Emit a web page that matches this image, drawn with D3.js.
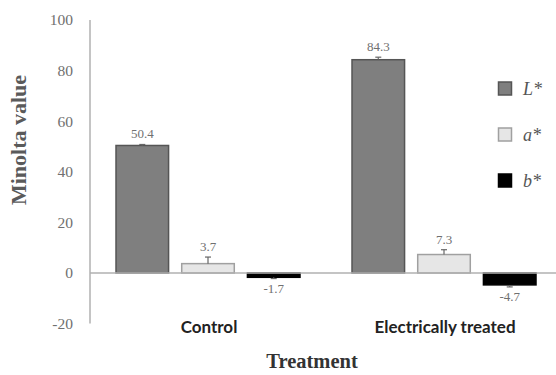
<!DOCTYPE html>
<html><head><meta charset="utf-8">
<script src="https://cdn.jsdelivr.net/npm/d3@7/dist/d3.min.js"></script>
<style>body{margin:0;background:#fff}svg{display:block}</style>
</head><body>
<svg id="c" width="556" height="375"></svg>
<script>
const categories = ["Control", "Electrically treated"];
const seriesNames = ["L*", "a*", "b*"];
const valuesL = [50.4, 84.3];
const valuesA = [3.7, 7.3];
const valuesB = [-1.7, -4.7];
const errL = [0.4, 1.0];
const errA = [2.6, 1.9];
const errB = [0.5, 0.8];
const yTicks = [-20, 0, 20, 40, 60, 80, 100];

const fills = ["#7f7f7f", "#e6e6e6", "#000000"];
const strokes = ["#555555", "#a0a0a0", "#000000"];
const series = [valuesL, valuesA, valuesB];
const errs = [errL, errA, errB];

const svg = d3.select("#c");
const y = d3.scaleLinear().domain([-20, 100]).range([323.6, 20]);
const x0 = d3.scaleBand().domain(categories).range([90, 562]);
const x1 = d3.scaleBand().domain(seriesNames).range([26, 210]).paddingInner(0.2);

// y axis line
svg.append("line").attr("x1", 90).attr("x2", 90).attr("y1", y(100)).attr("y2", y(-20))
  .attr("stroke", "#b0b0b0").attr("stroke-width", 1.5);

// tick labels
svg.append("g").selectAll("text").data(yTicks).join("text")
  .attr("x", 73).attr("y", d => y(d)).attr("dy", "0.35em")
  .attr("text-anchor", "end")
  .attr("font-family", "Liberation Serif").attr("font-size", 15.5).attr("fill", "#707070")
  .text(d => d);

// bars
const rows = [];
categories.forEach((c, i) => seriesNames.forEach((s, j) => rows.push({c, s, j, v: series[j][i], e: errs[j][i]})));

const g = svg.append("g");
g.selectAll("rect").data(rows).join("rect")
  .attr("x", d => x0(d.c) + x1(d.s))
  .attr("y", d => y(Math.max(0, d.v)))
  .attr("width", x1.bandwidth())
  .attr("height", d => Math.abs(y(d.v) - y(0)))
  .attr("fill", d => fills[d.j]).attr("stroke", d => strokes[d.j]).attr("stroke-width", 1.5);

// zero line
svg.append("line").attr("x1", 90).attr("x2", 556).attr("y1", y(0)).attr("y2", y(0))
  .attr("stroke", "#b0b0b0").attr("stroke-width", 1.5);

// error bars
const eb = svg.append("g").attr("stroke", "#666").attr("stroke-width", 1.2);
rows.forEach(d => {
  const cx = x0(d.c) + x1(d.s) + x1.bandwidth() / 2;
  const end = d.v >= 0 ? d.v + d.e : d.v - d.e;
  eb.append("line").attr("x1", cx).attr("x2", cx).attr("y1", y(d.v)).attr("y2", y(end));
  eb.append("line").attr("x1", cx - 3).attr("x2", cx + 3).attr("y1", y(end)).attr("y2", y(end));
});

// value labels
svg.append("g").selectAll("text").data(rows).join("text")
  .attr("x", d => x0(d.c) + x1(d.s) + x1.bandwidth() / 2)
  .attr("y", d => d.v >= 0 ? y(d.v + d.e) - 6 : y(d.v - d.e) + 14)
  .attr("text-anchor", "middle")
  .attr("font-family", "Liberation Serif").attr("font-size", 13).attr("fill", "#707070")
  .text(d => d.v.toFixed(1));

// category labels
svg.append("g").selectAll("text").data(categories).join("text")
  .attr("x", d => x0(d) + 26 + 92 + 1)
  .attr("y", 333)
  .attr("text-anchor", "middle")
  .attr("font-family", "Lato").attr("font-weight", "bold").attr("font-size", 17).attr("fill", "#222")
  .text(d => d);

// axis titles
svg.append("text").attr("x", 312).attr("y", 368).attr("text-anchor", "middle")
  .attr("font-family", "Liberation Serif").attr("font-weight", "bold").attr("font-size", 20.5).attr("fill", "#333")
  .text("Treatment");
svg.append("text").attr("transform", "translate(26,140) rotate(-90)").attr("text-anchor", "middle")
  .attr("font-family", "Liberation Serif").attr("font-weight", "bold").attr("font-size", 22).attr("fill", "#5a5a5a")
  .text("Minolta value");

// legend
const lg = svg.append("g");
seriesNames.forEach((s, j) => {
  const cy = 88.5 + j * 46;
  lg.append("rect").attr("x", 498.5).attr("y", cy - 6.5).attr("width", 13).attr("height", 13)
    .attr("fill", fills[j]).attr("stroke", strokes[j]).attr("stroke-width", 1.5);
  lg.append("text").attr("x", 523).attr("y", cy).attr("dy", "0.35em")
    .attr("font-family", "Liberation Serif").attr("font-style", "italic").attr("font-size", 18).attr("fill", "#555")
    .text(s);
});
</script>
</body></html>
